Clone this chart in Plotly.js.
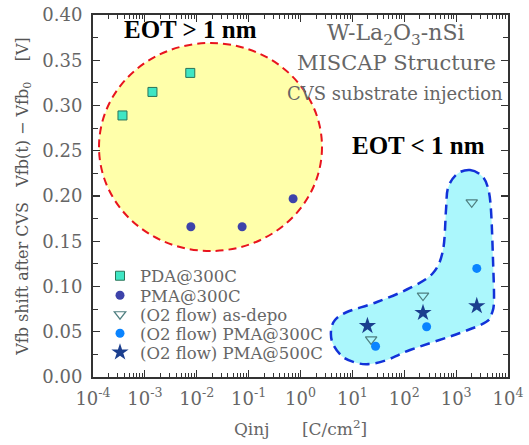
<!DOCTYPE html>
<html>
<head>
<meta charset="utf-8">
<script src="https://cdn.plot.ly/plotly-3.0.1.min.js"></script>
<style>html,body{margin:0;padding:0;background:#fff;}#chart{width:529px;height:445px;}</style>
</head>
<body>
<div id="chart"></div>
<script>
// ---- data ----
const seriesNames = ['PDA@300C', 'PMA@300C', '(O2 flow) as-depo', '(O2 flow) PMA@300C', '(O2 flow) PMA@500C'];
const pdaX = [3.7e-4, 1.4e-3, 7.5e-3];
const pdaY = [0.289, 0.315, 0.336];
const pmaX = [7.7e-3, 7.5e-2, 0.72];
const pmaY = [0.166, 0.166, 0.197];
const o2DepoX = [23, 230, 2000];
const o2DepoY = [0.0415, 0.090, 0.193];
const o2Pma300X = [28, 270, 2500];
const o2Pma300Y = [0.034, 0.0555, 0.120];
const o2Pma500X = [19.5, 230, 2500];
const o2Pma500Y = [0.0565, 0.071, 0.0785];
const xTickVals = [1e-4, 1e-3, 1e-2, 1e-1, 1e0, 1e1, 1e2, 1e3, 1e4];
const xTickText = ['10<sup>-4</sup>', '10<sup>-3</sup>', '10<sup>-2</sup>', '10<sup>-1</sup>', '10<sup>0</sup>', '10<sup>1</sup>', '10<sup>2</sup>', '10<sup>3</sup>', '10<sup>4</sup>'];

// ---- layout helpers ----
const M = {l: 93, r: 21, t: 15, b: 68};
const W = 529, H = 445;
const PW = W - M.l - M.r, PH = H - M.t - M.b;
const px2paperX = p => (p - M.l) / PW;
const px2paperY = p => (H - M.b - p) / PH;

// minor ticks for log axis
const minorVals = [];
for (let d = -4; d < 4; d++) for (let k = 2; k <= 9; k++) minorVals.push(k * Math.pow(10, d));

// outline of the blue region (pixel positions of the decoration)
const blobPx = [[470,170],[482,176],[488,188],[491,210],[493,260],[494,300],[492,313],[486,322],
  [460,333],[410,350],[387,360],[370,364],[357,363],[343,357],[333,344],[331,331],[335,320],[347,312],
  [377,302],[410,288],[433,273],[443,250],[446,210],[448,188],[457,174]];
function smoothClosed(pts) {
  const n = pts.length;
  let d = 'M' + pts[0][0].toFixed(4) + ',' + pts[0][1].toFixed(4);
  for (let i = 0; i < n; i++) {
    const p0 = pts[(i - 1 + n) % n], p1 = pts[i], p2 = pts[(i + 1) % n], p3 = pts[(i + 2) % n];
    const c1 = [p1[0] + (p2[0] - p0[0]) / 6, p1[1] + (p2[1] - p0[1]) / 6];
    const c2 = [p2[0] - (p3[0] - p1[0]) / 6, p2[1] - (p3[1] - p1[1]) / 6];
    d += ' C' + c1[0].toFixed(4) + ',' + c1[1].toFixed(4) + ' ' + c2[0].toFixed(4) + ',' + c2[1].toFixed(4) + ' ' + p2[0].toFixed(4) + ',' + p2[1].toFixed(4);
  }
  return d + ' Z';
}
const blobPath = smoothClosed(blobPx.map(p => [px2paperX(p[0]), px2paperY(p[1])]));

const grayFont = "'DejaVu Serif', serif";
const boldFont = "'Liberation Serif', 'Times New Roman', serif";
const legendIds = ['legend', 'legend2', 'legend3', 'legend4', 'legend5'];
const legendRowPx = [276, 295.5, 314.5, 333.5, 352.5];

const traces = [
  {x: pdaX, y: pdaY, name: seriesNames[0], mode: 'markers', type: 'scatter', legend: legendIds[0],
   marker: {symbol: 'square', size: 9, color: '#3fe6c4', line: {color: '#2b7358', width: 1}}},
  {x: pmaX, y: pmaY, name: seriesNames[1], mode: 'markers', type: 'scatter', legend: legendIds[1],
   marker: {symbol: 'circle', size: 9, color: '#3d43aa', line: {width: 0}}},
  {x: o2DepoX, y: o2DepoY, name: seriesNames[2], mode: 'markers', type: 'scatter', legend: legendIds[2],
   marker: {symbol: 'triangle-down-open', size: 10, color: '#4f7f80', line: {width: 1.2}}},
  {x: o2Pma300X, y: o2Pma300Y, name: seriesNames[3], mode: 'markers', type: 'scatter', legend: legendIds[3],
   marker: {symbol: 'circle', size: 9, color: '#0a84ff', line: {width: 0}}},
  {x: o2Pma500X, y: o2Pma500Y, name: seriesNames[4], mode: 'markers', type: 'scatter', legend: legendIds[4],
   marker: {symbol: 'star', size: 13, color: '#1b3e8e', line: {width: 0}}}
];

const layout = {
  width: W, height: H,
  margin: M,
  paper_bgcolor: '#fff', plot_bgcolor: '#fff',
  showlegend: true,
  xaxis: {type: 'log', range: [-4, 4], tickmode: 'array', tickvals: xTickVals, ticktext: xTickText,
          ticks: 'inside', ticklen: 7, tickwidth: 1.2, tickcolor: '#333',
          showline: true, linecolor: '#333', linewidth: 2, mirror: 'ticks',
          showgrid: false, zeroline: false, ticklabelstandoff: 4,
          tickfont: {family: grayFont, size: 18, color: '#666'},
          minor: {tickmode: 'array', tickvals: minorVals, ticks: 'inside', ticklen: 4, tickwidth: 1, tickcolor: '#333', showgrid: false},
          title: {text: 'Qinj\u00a0\u00a0\u00a0\u00a0\u00a0\u00a0[C/cm<sup>2</sup>]', font: {family: grayFont, size: 17, color: '#666'}, standoff: 16}},
  yaxis: {range: [0, 0.40], dtick: 0.05, tickformat: '.2f',
          ticks: 'inside', ticklen: 7, tickwidth: 1.2, tickcolor: '#333',
          showline: true, linecolor: '#333', linewidth: 2, mirror: 'ticks',
          showgrid: false, zeroline: false, ticklabelstandoff: 5,
          tickfont: {family: grayFont, size: 18, color: '#666'},
          minor: {dtick: 0.025, ticks: 'inside', ticklen: 5, tickwidth: 1, tickcolor: '#333', showgrid: false},
          title: {text: 'Vfb shift after CVS\u00a0\u00a0\u00a0Vfb(t) \u2212 Vfb<sub>0</sub>\u00a0\u00a0\u00a0\u00a0[V]', font: {family: grayFont, size: 16, color: '#555'}, standoff: 10}},
  shapes: [
    {type: 'circle', xref: 'paper', yref: 'paper', layer: 'below',
     x0: px2paperX(99), x1: px2paperX(322), y0: px2paperY(251), y1: px2paperY(43),
     fillcolor: '#ffffaa', line: {color: '#e8141e', width: 2, dash: '8px,5px'}},
    {type: 'path', xref: 'paper', yref: 'paper', layer: 'below', path: blobPath,
     fillcolor: '#abf7fc', line: {color: '#1232d8', width: 2.5, dash: '10px,6px'}}
  ],
  annotations: [
    {text: '<b>EOT > 1 nm</b>', xref: 'paper', yref: 'paper', x: px2paperX(190), y: px2paperY(30), showarrow: false,
     xanchor: 'center', yanchor: 'middle', font: {family: boldFont, size: 25, color: '#000'}},
    {text: '<b>EOT < 1 nm</b>', xref: 'paper', yref: 'paper', x: px2paperX(418), y: px2paperY(145), showarrow: false,
     xanchor: 'center', yanchor: 'middle', font: {family: boldFont, size: 25, color: '#000'}},
    {text: 'W-La<sub>2</sub>O<sub>3</sub>-nSi', xref: 'paper', yref: 'paper', x: px2paperX(396), y: px2paperY(35), showarrow: false,
     xanchor: 'center', yanchor: 'middle', font: {family: grayFont, size: 22, color: '#666'}},
    {text: 'MISCAP Structure', xref: 'paper', yref: 'paper', x: px2paperX(396), y: px2paperY(63), showarrow: false,
     xanchor: 'center', yanchor: 'middle', font: {family: grayFont, size: 21, color: '#666'}},
    {text: 'CVS substrate injection', xref: 'paper', yref: 'paper', x: px2paperX(395), y: px2paperY(93), showarrow: false,
     xanchor: 'center', yanchor: 'middle', font: {family: grayFont, size: 18, color: '#666'}}
  ]
};
legendIds.forEach((id, i) => {
  layout[id] = {x: px2paperX(100), y: px2paperY(legendRowPx[i]), xanchor: 'left', yanchor: 'middle',
                bgcolor: 'rgba(0,0,0,0)', borderwidth: 0,
                font: {family: grayFont, size: 16.5, color: '#666'}};
});

Plotly.newPlot('chart', traces, layout, {displayModeBar: false, staticPlot: true});
</script>
</body>
</html>
